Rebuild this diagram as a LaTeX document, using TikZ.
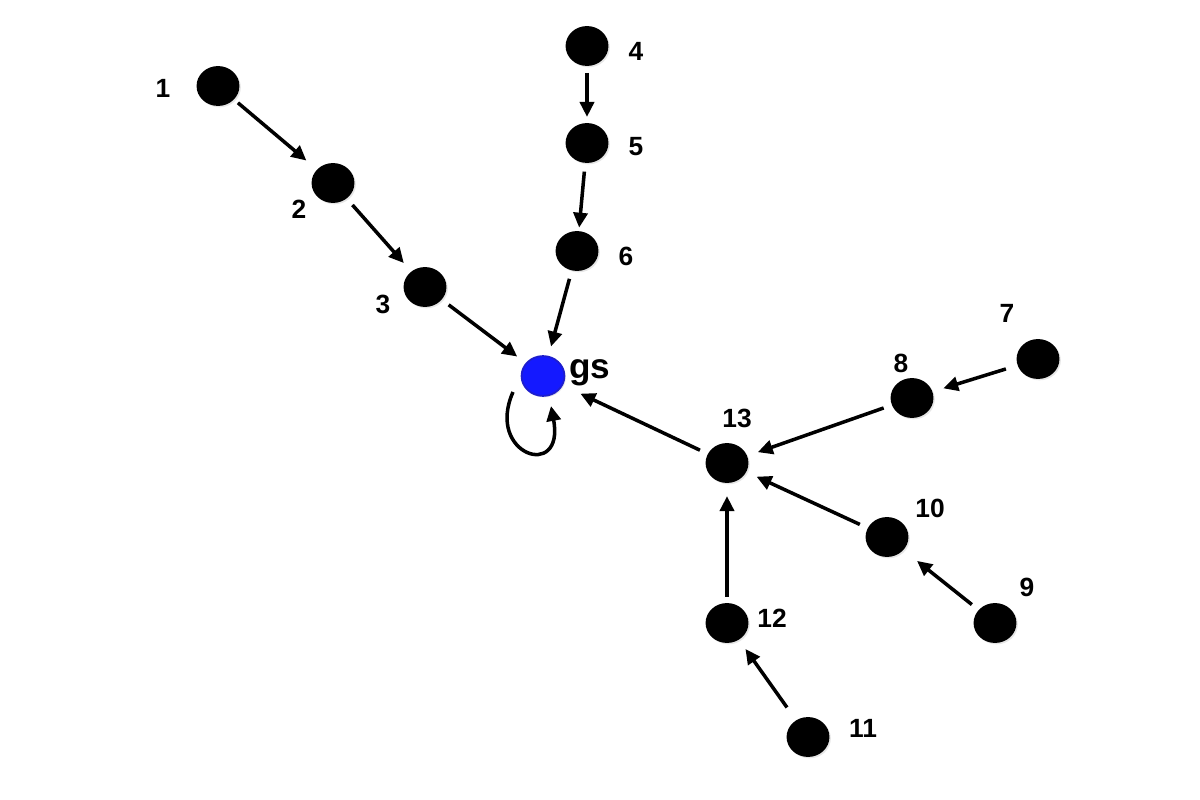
\documentclass[tikz,border=0pt]{standalone}
\usepackage{fontspec}
\setmainfont{Liberation Sans}
\usetikzlibrary{shapes.geometric, arrows.meta, shadows}
\definecolor{gsblue}{RGB}{20,25,255}
\definecolor{gsborde}{RGB}{30,30,205}
\tikzset{
	->, % Arcos dirigidos
	>={Triangle[length=8.5pt,width=8pt]}, % Punta triangular
	shorten >=5.5pt, % Hueco antes del nodo destino
	shorten <=4pt, % Hueco despues del nodo origen
	dot/.style={ellipse, fill=black, minimum width=24.4pt, minimum height=22.7pt, inner sep=0pt,
		drop shadow={shadow xshift=0.8pt, shadow yshift=-0.8pt, opacity=0.2}}, % Nodos negros
	gsdot/.style={dot, fill=gsblue, draw=gsborde, line width=1pt}, % Nodo gs
	lbl/.style={font=\bfseries\fontsize{15}{17}\selectfont, inner sep=0pt} % Etiquetas
}

\begin{document}
\begin{tikzpicture}[x=0.02cm, y=-0.02cm, line width=2pt]
			\useasboundingbox (0,0) rectangle (1200,800);
			\node[gsdot] (gs) at (543,376) {};
			\node[dot] (n1) at (218,86) {};
			\node[dot] (n2) at (333,183) {};
			\node[dot] (n3) at (425,287) {};
			\node[dot] (n4) at (587,46) {};
			\node[dot] (n5) at (587,143) {};
			\node[dot] (n6) at (577,251) {};
			\node[dot] (n7) at (1038,359) {};
			\node[dot] (n8) at (912,398) {};
			\node[dot] (n9) at (995,623) {};
			\node[dot] (n10) at (887,537) {};
			\node[dot] (n11) at (808,737) {};
			\node[dot] (n12) at (727,623) {};
			\node[dot] (n13) at (727,463) {};
			\node[lbl] (t1) at (163,88) {1};
			\node[lbl] (t2) at (299,209) {2};
			\node[lbl] (t3) at (383,304) {3};
			\node[lbl] (t4) at (636,51) {4};
			\node[lbl] (t5) at (636,147) {5};
			\node[lbl] (t6) at (626,256) {6};
			\node[lbl] (t7) at (1007,313) {7};
			\node[lbl] (t8) at (901,363) {8};
			\node[lbl] (t9) at (1027,587) {9};
			\node[lbl] (t10) at (930,508) {10};
			\node[lbl] (t11) at (863,728) {11};
			\node[lbl] (t12) at (772,618) {12};
			\node[lbl] (t13) at (737,418) {13};
			\node[lbl, font=\bfseries\fontsize{20}{24}\selectfont] (tgs) at (590,373) {gs};
			\draw	(n1) edge[shorten >=7pt, shorten <=2pt] (n2)
					(n2) edge (n3)
					(n3) edge[shorten >=6pt] (gs)
					(n4) edge[shorten >=2.5pt, shorten <=3pt] (n5)
					(n5) edge[shorten >=1pt] (n6)
					(n6) edge (gs)
					(n7) edge[shorten <=6pt] (n8)
					(n8) edge (n13)
					(n13) edge[shorten >=11pt] (gs)
					(n10) edge (n13)
					(n9) edge[shorten >=9pt] (n10)
					(n12) edge[shorten <=2.5pt, shorten >=6.5pt] (n13)
					(n11) edge[shorten <=8pt] (n12)
					;
			\draw[shorten <=0pt, shorten >=0pt] ([shift={(-30,16)}]gs.center)
					.. controls +(-28,63) and +(14,75) .. ([shift={(8,30)}]gs.center);
			\end{tikzpicture}
\end{document}
